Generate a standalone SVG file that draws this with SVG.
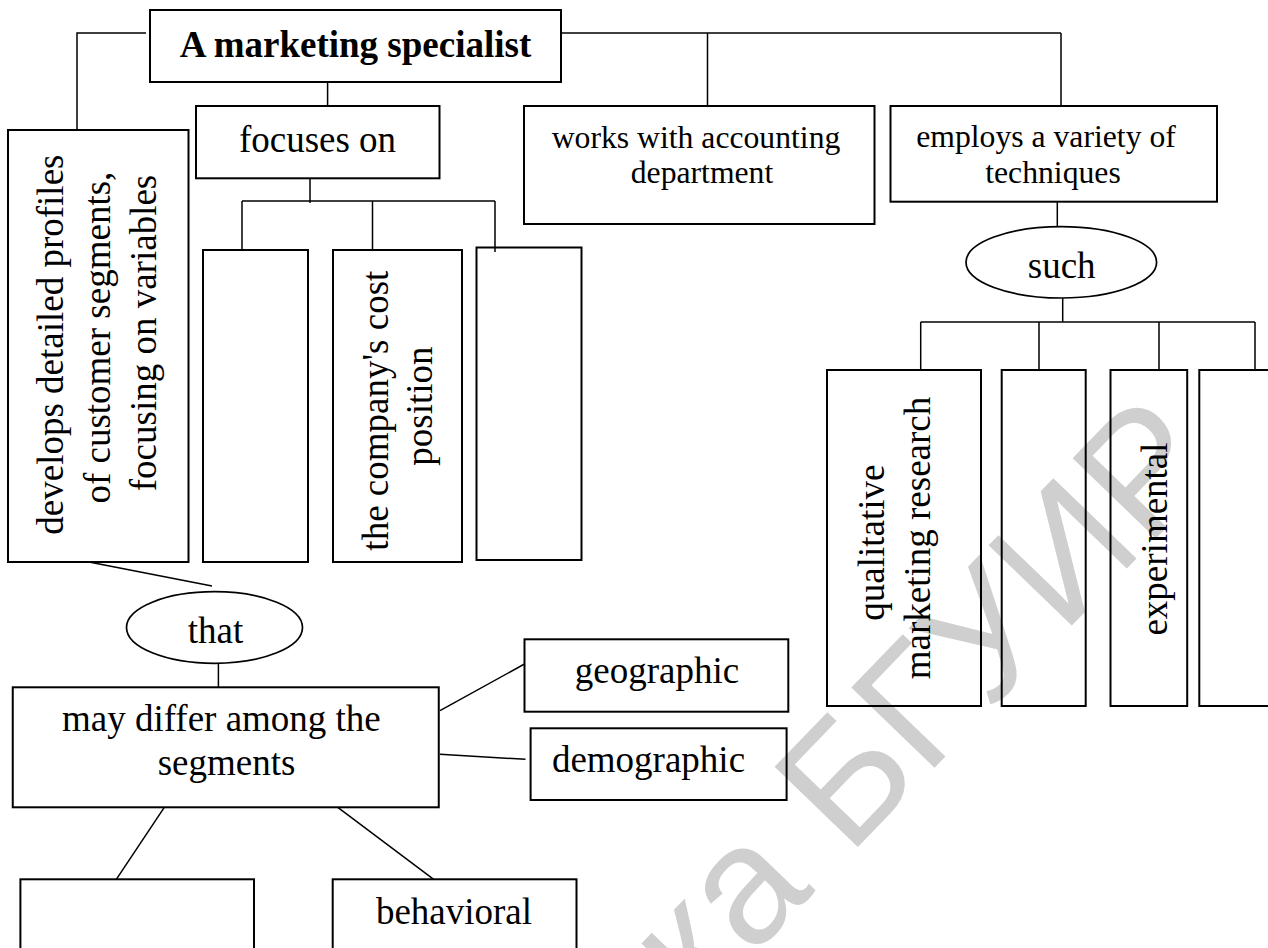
<svg xmlns="http://www.w3.org/2000/svg" width="1268" height="948" viewBox="0 0 1268 948">
  <style>
    .box { fill: none; stroke: #000; stroke-width: 2; }
    .oval { fill: none; stroke: #000; stroke-width: 1.7; }
    .wire { fill: none; stroke: #000; stroke-width: 1.5; }
    .big { font-family: "Liberation Serif", "Times New Roman", serif; font-size: 37px; fill: #000; }
    .small { font-family: "Liberation Serif", "Times New Roman", serif; font-size: 31.7px; fill: #000; }
    .title { font-family: "Liberation Serif", "Times New Roman", serif; font-size: 37px; font-weight: bold; fill: #000; }
    .mark { font-family: "Liberation Sans", Arial, sans-serif; font-size: 168px; fill: #cfcfcf; }
  </style>
  <rect width="1268" height="948" fill="#fff"/>

  <!-- library watermark, drawn underneath everything -->
  <text class="mark" transform="translate(1224,468) rotate(-46)" text-anchor="end">ка БГУИР</text>

  <!-- connectors -->
  <g id="connectors">
    <polyline class="wire" points="146,33 77,33 77,130"/>
    <line class="wire" x1="561" y1="33" x2="1061" y2="33"/>
    <line class="wire" x1="707.5" y1="33" x2="707.5" y2="106"/>
    <line class="wire" x1="1061" y1="33" x2="1061" y2="106"/>
    <line class="wire" x1="327.6" y1="82" x2="327.6" y2="106"/>
    <line class="wire" x1="310" y1="178" x2="310" y2="203"/>
    <line class="wire" x1="242" y1="201" x2="495" y2="201"/>
    <line class="wire" x1="242" y1="201" x2="242" y2="250"/>
    <line class="wire" x1="372.5" y1="201" x2="372.5" y2="250"/>
    <line class="wire" x1="495" y1="201" x2="495" y2="252"/>
    <line class="wire" x1="89" y1="562" x2="212" y2="586"/>
    <line class="wire" x1="218.4" y1="663" x2="218.4" y2="687"/>
    <line class="wire" x1="440" y1="710.7" x2="524.5" y2="664"/>
    <line class="wire" x1="440" y1="754.3" x2="525.5" y2="759.3"/>
    <line class="wire" x1="164.3" y1="807.3" x2="116.3" y2="879.3"/>
    <line class="wire" x1="337.8" y1="807.3" x2="433.7" y2="879.3"/>
    <line class="wire" x1="1057.3" y1="201.7" x2="1057.3" y2="226.7"/>
    <line class="wire" x1="1062.7" y1="298" x2="1062.7" y2="322"/>
    <line class="wire" x1="920.7" y1="322" x2="1255" y2="322"/>
    <line class="wire" x1="920.7" y1="322" x2="920.7" y2="370"/>
    <line class="wire" x1="1039" y1="322" x2="1039" y2="370"/>
    <line class="wire" x1="1159" y1="322" x2="1159" y2="370"/>
    <line class="wire" x1="1255" y1="322" x2="1255" y2="370"/>
  </g>

  <g id="specialist">
    <rect class="box" x="150" y="10" width="411" height="72"/>
    <text class="title" x="355.5" y="56.7" text-anchor="middle">A marketing specialist</text>
  </g>

  <g id="develops">
    <rect class="box" x="8" y="130" width="180.5" height="432"/>
    <text class="big" transform="rotate(-90)" text-anchor="middle">
      <tspan x="-340" y="63">develops detailed profiles</tspan>
      <tspan x="-333" y="110">of customer segments,</tspan>
      <tspan x="-333" y="156">focusing on variables</tspan>
    </text>
  </g>

  <g id="focuses">
    <rect class="box" x="196" y="106" width="243.5" height="72.3"/>
    <text class="big" x="317.5" y="151.7" text-anchor="middle">focuses on</text>
  </g>

  <g id="focus-item-1">
    <rect class="box" x="203" y="250" width="105" height="312"/>
  </g>

  <g id="focus-item-2">
    <rect class="box" x="333" y="250" width="129" height="312"/>
    <text class="big" transform="rotate(-90)" text-anchor="middle">
      <tspan x="-406" y="388">the company's cost</tspan>
      <tspan x="-406" y="432">position</tspan>
    </text>
  </g>

  <g id="focus-item-3">
    <rect class="box" x="476.5" y="247.5" width="105" height="312.5"/>
  </g>

  <g id="accounting">
    <rect class="box" x="524" y="106" width="350.5" height="118"/>
    <text class="small" text-anchor="middle">
      <tspan x="700" y="147.5">works with accounting</tspan>
      <tspan x="702" y="183">department</tspan>
    </text>
  </g>

  <g id="techniques">
    <rect class="box" x="890.5" y="106" width="326.5" height="95.7"/>
    <text class="small" text-anchor="middle">
      <tspan x="1050" y="147">employs a variety of</tspan>
      <tspan x="1053" y="182.7">techniques</tspan>
    </text>
  </g>

  <g id="such">
    <ellipse class="oval" cx="1061.3" cy="262.3" rx="95.3" ry="35.7"/>
    <text class="big" x="1061.7" y="278.3" text-anchor="middle">such</text>
  </g>

  <g id="technique-1">
    <rect class="box" x="827" y="370" width="154" height="336"/>
    <text class="big" transform="rotate(-90)" text-anchor="middle">
      <tspan x="-538" y="884">qualitative</tspan>
      <tspan x="-538" y="930">marketing research</tspan>
    </text>
  </g>

  <g id="technique-2">
    <rect class="box" x="1001.7" y="370" width="84" height="336"/>
  </g>

  <g id="technique-3">
    <rect class="box" x="1110.5" y="370" width="76.7" height="336"/>
    <text class="big" transform="rotate(-90)" text-anchor="middle" x="-539" y="1167">experimental</text>
  </g>

  <g id="technique-4">
    <rect class="box" x="1199.3" y="370" width="90" height="336"/>
  </g>

  <g id="that">
    <ellipse class="oval" cx="214.5" cy="627.5" rx="88" ry="35.8"/>
    <text class="big" x="215.5" y="643.3" text-anchor="middle">that</text>
  </g>

  <g id="differ">
    <rect class="box" x="12.75" y="687.3" width="426" height="120"/>
    <text class="big" text-anchor="middle">
      <tspan x="226" y="731">may differ among the</tspan>
      <tspan x="226.5" y="775">segments</tspan>
    </text>
  </g>

  <g id="geographic">
    <rect class="box" x="524.5" y="639.3" width="263.8" height="72.4"/>
    <text class="big" x="657" y="683.3" text-anchor="middle">geographic</text>
  </g>

  <g id="demographic">
    <rect class="box" x="530.6" y="728.3" width="256" height="71.7"/>
    <text class="big" x="648.5" y="771.7" text-anchor="middle">demographic</text>
  </g>

  <g id="segment-blank">
    <rect class="box" x="20.4" y="879.3" width="233.6" height="90"/>
  </g>

  <g id="behavioral">
    <rect class="box" x="332.7" y="879.3" width="243.8" height="90"/>
    <text class="big" x="454" y="924" text-anchor="middle">behavioral</text>
  </g>
</svg>
